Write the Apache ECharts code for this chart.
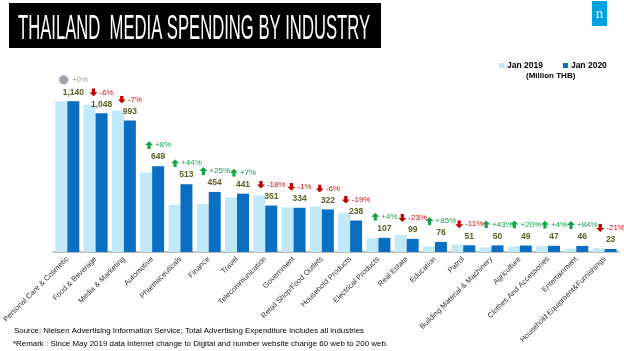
<!DOCTYPE html>
<html>
<head>
<meta charset="utf-8">
<script src="https://cdn.jsdelivr.net/npm/echarts@6/dist/echarts.min.js"></script>
<style>
  html, body { margin: 0; padding: 0; background: #fff; }
  #main { width: 624px; height: 351px; }
</style>
</head>
<body>
<div id="main"></div>
<script>
// industries, left to right
var categories = [
  'Personal Care & Cosmetic', 'Food & Beverage', 'Media & Marketing', 'Automotive',
  'Pharmaceuticals', 'Finance', 'Travel', 'Telecommunication', 'Government',
  'Retail Shop/Food Outlets', 'Household Products', 'Electrical Products', 'Real Estate',
  'Education', 'Patrol', 'Building Material & Machinery', 'Agriculture',
  'Clothes And Accessories', 'Entertainment', 'Household Equipment&Furnishings'
];
// Million THB
var jan2019 = [1138, 1112, 1067, 600, 356, 363, 412, 428, 337, 343, 294, 103, 129, 41, 57, 35, 41, 45, 25, 29];
var jan2020 = [1140, 1048, 993, 649, 513, 454, 441, 351, 334, 322, 238, 107, 99, 76, 51, 50, 49, 47, 46, 23];
var changePct = ['+0%', '-6%', '-7%', '+8%', '+44%', '+25%', '+7%', '-18%', '-1%', '-6%', '-19%',
  '+4%', '-23%', '+85%', '-11%', '+43%', '+20%', '+4%', '+84%', '-21%'];

var titleText = 'THAILAND  MEDIA SPENDING BY INDUSTRY';
var note1 = 'Source: Nielsen Advertising Information Service; Total Advertising Expenditure includes all industries';
var note2 = '*Remark : Since May 2019 data Internet change to Digital and number website change 60 web to 200 web.';

// block arrows for the change labels
function arrowSvg(color, down) {
  var pts = down ? '0,5 3,5 3,0 7,0 7,5 10,5 5,10' : '0,5 5,0 10,5 7,5 7,10 3,10 3,5';
  return 'data:image/svg+xml;charset=utf-8,' + encodeURIComponent(
    '<svg xmlns="http://www.w3.org/2000/svg" width="20" height="20" viewBox="0 0 10 10">' +
    '<polygon points="' + pts + '" fill="' + color + '"/></svg>');
}

// squeeze text to a given width (the original uses narrow fonts)
var ctx = document.createElement('canvas').getContext('2d');
function fitScale(text, font, width) {
  ctx.font = font;
  return width / ctx.measureText(text).width;
}

var chart = echarts.init(document.getElementById('main'));

function topLabel(p) {
  var i = p.dataIndex;
  var c = changePct[i];
  var head;
  if (c === '+0%') {
    head = '{dot|●}{zero|' + c + '}';
  } else if (c.charAt(0) === '+') {
    head = '{up|}{upTxt|' + c + '}';
  } else {
    head = '{dn|}{dnTxt|' + c + '}';
  }
  return head + '\n{val|' + jan2020[i].toLocaleString('en-US') + '}';
}

var titleFont = '35px "Liberation Sans"';
var noteFont = '7.5px "Liberation Sans"';

var option = {
  animation: false,
  legend: {
    data: ['Jan 2019', 'Jan 2020'],
    left: 494,
    top: 56,
    icon: 'rect',
    itemWidth: 5,
    itemHeight: 5,
    itemGap: 20,
    textStyle: { fontFamily: 'Liberation Sans', fontWeight: 'bold', fontSize: 8.5, color: '#000', padding: [0, 0, 0, -2] }
  },
  grid: { left: 48.75, right: 5.25, top: 80, bottom: 99 },
  xAxis: {
    type: 'category',
    data: categories,
    axisTick: { show: false },
    axisLine: { lineStyle: { color: '#bfbfbf', width: 2 } },
    axisLabel: {
      interval: 0,
      rotate: 45,
      margin: 6,
      fontFamily: 'Liberation Sans',
      fontSize: 7.5,
      color: '#333'
    }
  },
  yAxis: { type: 'value', min: 0, max: 1300, show: false },
  series: [
    {
      name: 'Jan 2019',
      type: 'bar',
      data: jan2019,
      barWidth: 12,
      barGap: '0%',
      itemStyle: { color: '#c2e9f9' }
    },
    {
      name: 'Jan 2020',
      type: 'bar',
      data: jan2020,
      barWidth: 12,
      itemStyle: { color: '#0a6fc2' },
      label: {
        show: true,
        position: 'top',
        distance: 3,
        formatter: topLabel,
        rich: {
          dot: { fontFamily: 'DejaVu Sans', fontSize: 12, color: '#9ea3b0', lineHeight: 12, padding: [0, 3, 0, 0] },
          zero: { fontFamily: 'Liberation Sans', fontSize: 8, color: '#9a9a9a', lineHeight: 12 },
          up: { width: 8, height: 8, lineHeight: 12, backgroundColor: { image: arrowSvg('#16a44a', false) } },
          upTxt: { fontFamily: 'Liberation Sans', fontSize: 8, color: '#16a44a', lineHeight: 12, padding: [0, 0, 0, 2] },
          dn: { width: 8, height: 8, lineHeight: 12, backgroundColor: { image: arrowSvg('#c00000', true) } },
          dnTxt: { fontFamily: 'Liberation Sans', fontSize: 8, color: '#d01010', lineHeight: 12, padding: [0, 0, 0, 2] },
          val: { fontFamily: 'Liberation Sans', fontSize: 8.5, fontWeight: 'bold', color: '#5e5d25', lineHeight: 12 }
        }
      }
    }
  ],
  graphic: [
    {
      type: 'rect',
      shape: { x: 9, y: 3, width: 372, height: 45 },
      style: { fill: '#000' }
    },
    {
      type: 'text',
      x: 18, y: 29,
      scaleX: fitScale(titleText, titleFont, 352),
      style: { text: titleText, font: titleFont, fill: '#fff', textVerticalAlign: 'middle' }
    },
    {
      type: 'rect',
      shape: { x: 592, y: 1, width: 15, height: 25 },
      style: { fill: '#00a3e0' }
    },
    {
      type: 'text',
      x: 599.5, y: 14,
      style: { text: 'n', font: '15px "Liberation Serif"', fill: '#fff', textAlign: 'center', textVerticalAlign: 'middle' }
    },
    {
      type: 'text',
      x: 526, y: 76,
      style: { text: '(Million THB)', font: 'bold 8px "Liberation Sans"', fill: '#000', textVerticalAlign: 'middle' }
    },
    {
      type: 'text',
      x: 14, y: 331,
      scaleX: fitScale(note1, noteFont, 350),
      style: { text: note1, font: noteFont, fill: '#000', textVerticalAlign: 'middle' }
    },
    {
      type: 'text',
      x: 13, y: 344,
      scaleX: fitScale(note2, noteFont, 375),
      style: { text: note2, font: noteFont, fill: '#000', textVerticalAlign: 'middle' }
    }
  ]
};

chart.setOption(option);
</script>
</body>
</html>
